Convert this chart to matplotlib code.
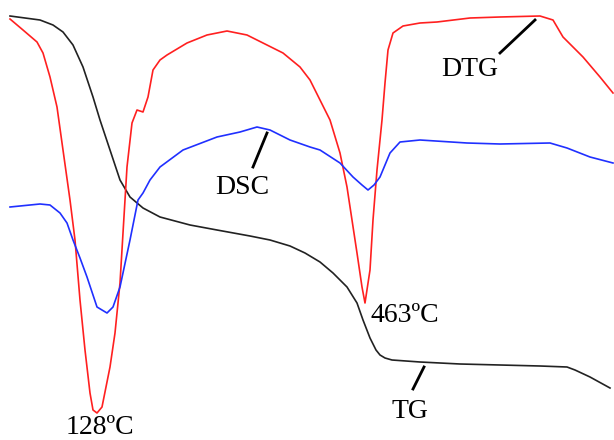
import matplotlib
matplotlib.use("Agg")
import matplotlib.pyplot as plt

# TG curve (black)
tg_x = [10, 40, 53, 63, 73, 83, 93, 100, 110, 120, 130, 143, 160, 190, 217, 250,
        270, 290, 305, 320, 333, 347, 357, 363, 370, 376, 380, 385, 392, 420, 460,
        500, 540, 567, 575, 590, 610]
tg_y = [16, 20, 25, 32, 45, 67, 97, 120, 150, 180, 197, 208, 217, 225, 230, 236,
        240, 246, 253, 262, 273, 287, 303, 320, 338, 350, 355, 358, 360, 362, 364,
        365, 366, 367, 370, 377, 388]

# DTG curve (red)
dtg_x = [10, 23, 37, 43, 50, 57, 63, 70, 75, 80, 85, 90, 93, 97, 102, 110, 115,
         120, 123, 127, 132, 137, 143, 148, 153, 160, 167, 187, 207, 227, 247,
         263, 283, 300, 310, 320, 330, 340, 347, 352, 357, 362, 365, 370, 373,
         377, 382, 385, 388, 393, 403, 420, 437, 470, 500, 540, 553, 563, 583,
         600, 613]
dtg_y = [19, 30, 42, 53, 77, 107, 150, 200, 240, 300, 350, 393, 410, 413, 407,
         367, 333, 283, 233, 167, 123, 110, 112, 97, 70, 60, 55, 43, 35, 31, 35,
         43, 53, 67, 80, 100, 120, 153, 187, 220, 253, 287, 303, 270, 220,
         170, 120, 83, 50, 33, 26, 23, 22, 18, 17, 16, 20, 37, 57, 77, 93]

# DSC curve (blue)
dsc_x = [10, 40, 50, 60, 67, 73, 80, 87, 97, 107, 113, 120, 130, 138, 143, 150,
         160, 183, 217, 240, 257, 270, 290, 310, 320, 340, 353, 362, 368, 374,
         380, 390, 400, 420, 467, 500, 550, 567, 590, 613]
dsc_y = [207, 204, 205, 213, 223, 240, 258, 277, 307, 313, 307, 287, 240, 200, 193,
         180, 167, 150, 137, 132, 127, 130, 140, 147, 150, 163, 177, 185, 190, 185,
         177, 153, 142, 140, 143, 144, 143, 148, 157, 163]

fig = plt.figure(figsize=(6.14, 4.40), dpi=100)
ax = fig.add_axes([0, 0, 1, 1])
ax.plot(tg_x, tg_y, color="#222222", lw=1.2)
ax.plot(dtg_x, dtg_y, color="#ff2020", lw=1.2)
ax.plot(dsc_x, dsc_y, color="#2030ff", lw=1.2)

font = dict(family="Liberation Serif", fontsize=20, color="black",
            ha="center", va="center")
ax.text(242, 187, "DSC", **font)
ax.plot([253, 267], [167, 133], color="black", lw=2)
ax.text(470, 70, "DTG", **font)
ax.plot([500, 535], [53, 20], color="black", lw=2)
ax.text(410, 412, "TG", **font)
ax.plot([413, 424], [389, 367], color="black", lw=2)
ax.text(100, 428, "128ºC", **font)
ax.text(405, 315, "463ºC", **font)

ax.set_xlim(0, 614)
ax.set_ylim(440, 0)
ax.axis("off")

plt.savefig("out.png", dpi=100)
